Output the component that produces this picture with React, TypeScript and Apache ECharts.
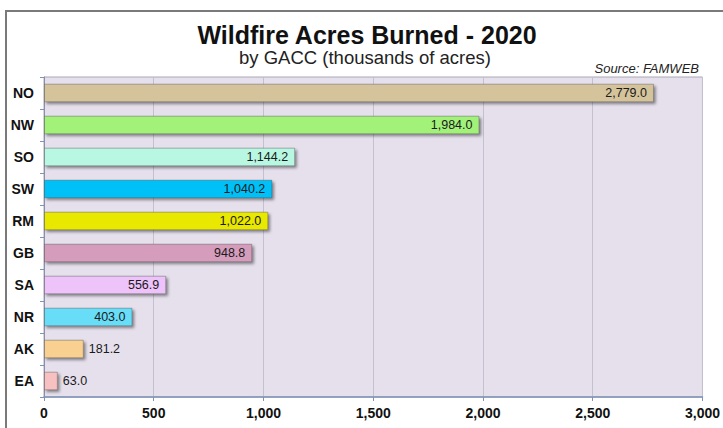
import React, { useEffect, useRef } from "react";
import * as echarts from "echarts";

const categories = ["NO", "NW", "SO", "SW", "RM", "GB", "SA", "NR", "AK", "EA"];
const acres = [2779.0, 1984.0, 1144.2, 1040.2, 1022.0, 948.8, 556.9, 403.0, 181.2, 63.0];
const barColors = ["#D5C49B", "#A2F27A", "#B8F8E2", "#00C1F7", "#E9E800", "#D59CBC", "#EDC3FA", "#67DDF8", "#F9D08F", "#F8C1C1"];
const outsideLabels = ["AK", "EA"];
const xTicks = [0, 500, 1000, 1500, 2000, 2500, 3000];

const fmt = (v: number) =>
  v.toLocaleString("en-US", { minimumFractionDigits: 1, maximumFractionDigits: 1 });

export default function App() {
  const ref = useRef<HTMLDivElement>(null);
  useEffect(() => {
    if (!ref.current) return;
    const chart = echarts.init(ref.current, undefined, { renderer: "svg" });
    const cats = [...categories].reverse();
    const vals = [...acres].reverse();
    const cols = [...barColors].reverse();
    chart.setOption({
      animation: false,
      backgroundColor: "#ffffff",
      title: [
        {
          text: "Wildfire Acres Burned - 2020",
          left: 362,
          top: 17,
          textAlign: "center",
          textStyle: { fontFamily: "Liberation Sans, Arial", fontSize: 25, fontWeight: "bold", color: "#111" },
        },
        {
          text: "by GACC (thousands of acres)",
          left: 360,
          top: 43,
          textAlign: "center",
          textStyle: { fontFamily: "Liberation Sans, Arial", fontSize: 18.5, fontWeight: "normal", color: "#222" },
        },
        {
          text: "Source: FAMWEB",
          left: 694,
          top: 57,
          textAlign: "right",
          textStyle: { fontFamily: "Liberation Sans, Arial", fontSize: 13, fontStyle: "italic", fontWeight: "normal", color: "#222" },
        },
      ],
      graphic: [
        {
          type: "rect",
          shape: { x: 6, y: 11, width: 800, height: 500 },
          style: { fill: "none", stroke: "#7a7a7a", lineWidth: 2 },
          silent: true,
          z: 100,
        },
      ],
      grid: {
        left: 44,
        right: 20,
        top: 77,
        bottom: 31,
        show: true,
        backgroundColor: "#E5E0EC",
        borderColor: "#A8A8B4",
        borderWidth: 1,
      },
      xAxis: {
        type: "value",
        min: 0,
        max: 3000,
        interval: 500,
        axisLine: { show: true, lineStyle: { color: "#7F93B8", width: 1.5 } },
        axisTick: { show: true, length: 4, lineStyle: { color: "#7F93B8" } },
        splitLine: { show: true, lineStyle: { color: "#C3C1CE", width: 1 } },
        axisLabel: {
          fontFamily: "Liberation Sans, Arial",
          fontSize: 14,
          fontWeight: "bold",
          color: "#111",
          margin: 9,
          formatter: (v: number) => (xTicks.includes(v) ? v.toLocaleString("en-US") : ""),
        },
      },
      yAxis: {
        type: "category",
        data: cats,
        axisLine: { show: true, lineStyle: { color: "#8a90a8", width: 1 } },
        axisTick: { show: true, length: 4, lineStyle: { color: "#7F93B8" } },
        axisLabel: {
          fontFamily: "Liberation Sans, Arial",
          fontSize: 14,
          fontWeight: "bold",
          color: "#111",
          margin: 10,
        },
      },
      series: [
        {
          type: "bar",
          barWidth: "58%",
          data: vals.map((v, i) => ({
            value: v,
            itemStyle: {
              color: cols[i],
              borderColor: "rgba(60,60,60,0.35)",
              borderWidth: 1,
              shadowColor: "rgba(0,0,0,0.45)",
              shadowBlur: 3,
              shadowOffsetX: 2,
              shadowOffsetY: 2,
            },
            label: outsideLabels.includes(cats[i])
              ? { position: "right", distance: 5 }
              : { position: "insideRight", distance: 7 },
          })),
          label: {
            show: true,
            fontFamily: "Liberation Sans, Arial",
            fontSize: 12.5,
            color: "#1a1a1a",
            formatter: (p: any) => fmt(p.value),
          },
        },
      ],
    });
    return () => chart.dispose();
  }, []);
  return <div ref={ref} style={{ position: "fixed", left: 0, top: 0, width: 723, height: 428 }} />;
}
